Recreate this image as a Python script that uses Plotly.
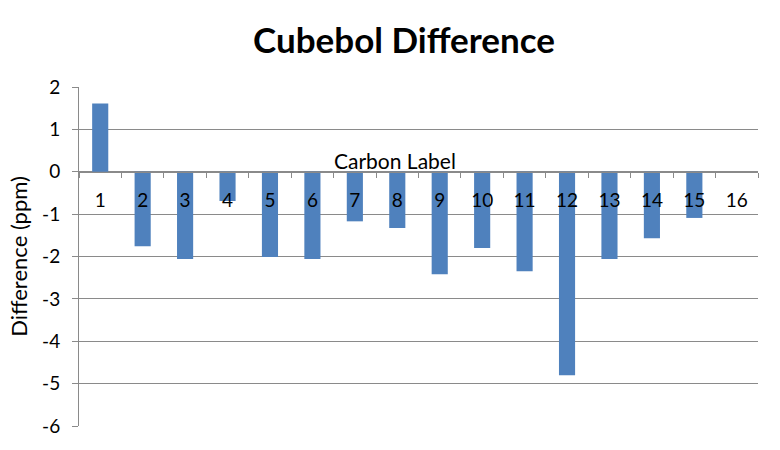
import plotly.graph_objects as go

categories = [str(i) for i in range(1, 17)]
differences = [1.61, -1.76, -2.06, -0.69, -2.01, -2.06, -1.17, -1.33,
               -2.42, -1.80, -2.35, -4.80, -2.06, -1.57, -1.09, 0.0]
y_ticks = [2, 1, 0, -1, -2, -3, -4, -5, -6]
y_tick_labels = [str(v) for v in y_ticks]

FONT = "Lato, 'Open Sans', sans-serif"

fig = go.Figure(go.Bar(x=categories, y=differences, marker_color="#4F81BD",
                       marker_line_width=0))

fig.update_layout(
    width=780, height=450,
    margin=dict(l=79, r=22, t=87, b=24, autoexpand=False),
    paper_bgcolor="white", plot_bgcolor="white",
    bargap=0.62,
    showlegend=False,
    title=dict(text="<b>Cubebol Difference</b>", x=0.518, xanchor="center",
               y=0.91, yanchor="middle",
               font=dict(family=FONT, size=35, color="black")),
    font=dict(family=FONT, color="black"),
)

fig.update_yaxes(
    range=[-6, 2], tickvals=y_ticks, ticktext=y_tick_labels,
    showgrid=True, gridcolor="#8a8a8a", automargin=False,
    gridwidth=1, zeroline=False, showline=True, linecolor="#8a8a8a",
    ticks="outside", ticklen=6, tickcolor="#8a8a8a",
    tickfont=dict(size=19, family=FONT), ticklabelstandoff=8,
    title=dict(text="Difference (ppm)", font=dict(size=22, family=FONT), standoff=8),
)

fig.update_xaxes(
    type="category", anchor="free", position=0.75, automargin=False,
    showline=True, linecolor="#8a8a8a", ticks="outside", tickson="boundaries",
    ticklen=5, tickcolor="#8a8a8a", showgrid=False,
    tickfont=dict(size=19, family=FONT), ticklabelstandoff=11,
)

fig.add_annotation(text="Carbon Label", xref="paper", yref="y", x=0.465, y=0,
                   yshift=11, showarrow=False, xanchor="center",
                   font=dict(size=21, family=FONT, color="black"))

fig.write_html("out.html", config={"displayModeBar": False},
               post_script="document.body.style.margin='0';")
